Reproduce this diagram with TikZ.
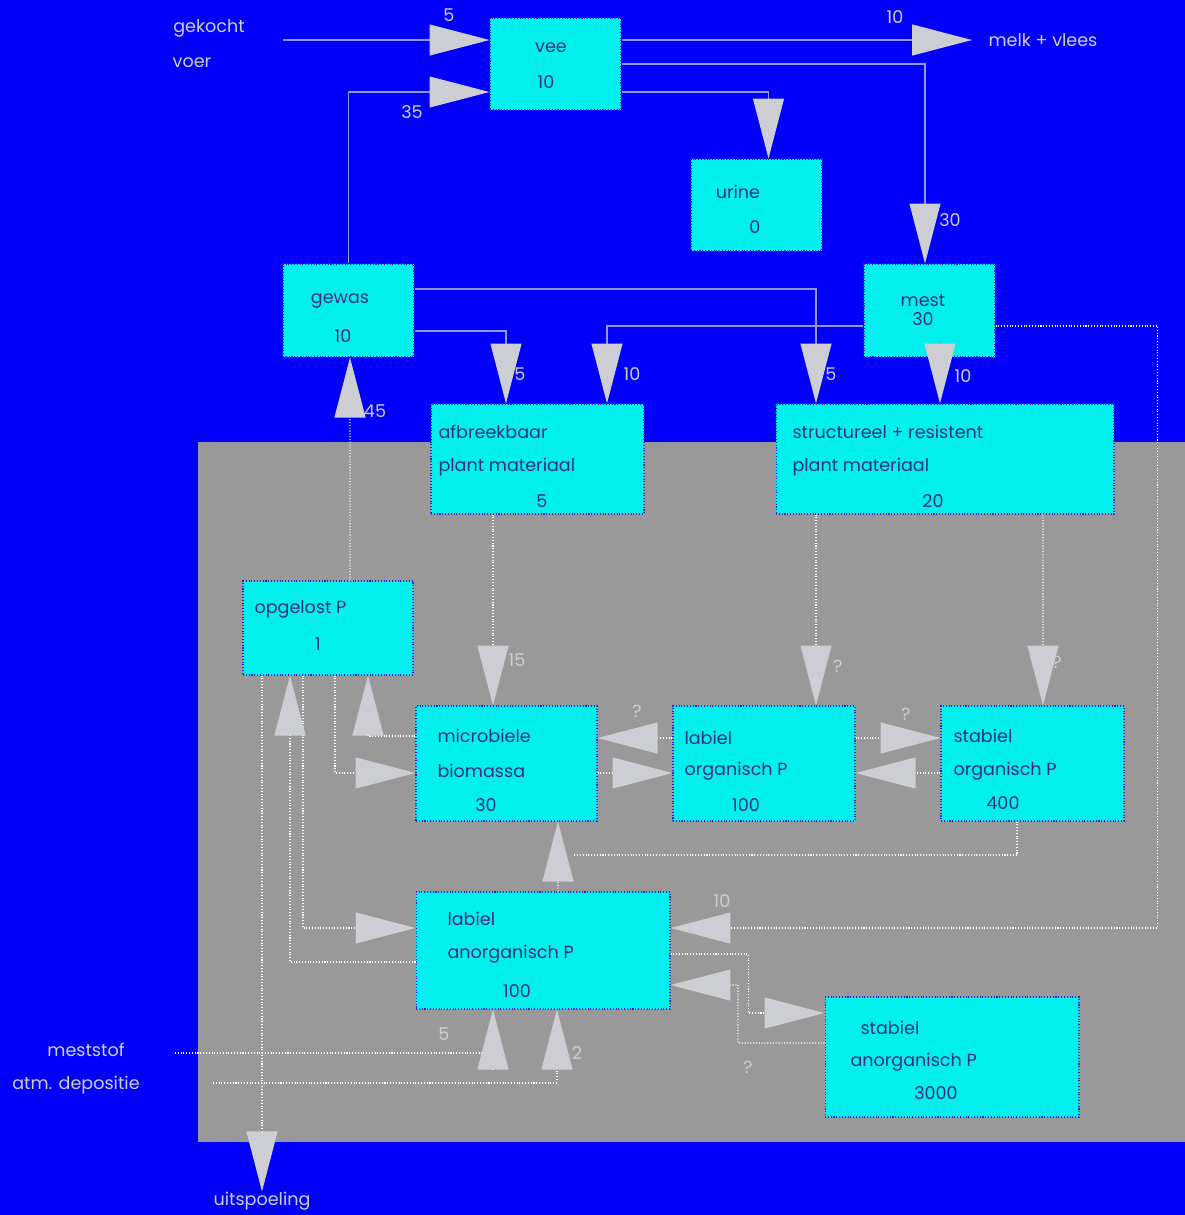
\documentclass[tikz,border=0pt]{standalone}
\usepackage{fontspec}
\setmainfont{Poppins}
\usetikzlibrary{arrows.meta}
\usetikzlibrary{calc}
\definecolor{sky}{RGB}{0,0,250}
\definecolor{soil}{RGB}{153,153,153}
\definecolor{poolcyan}{RGB}{0,240,240}
\definecolor{rim}{RGB}{40,40,200}
\definecolor{ink}{RGB}{50,50,120}
\definecolor{pale}{RGB}{205,205,212}
\definecolor{wire}{RGB}{150,150,220}
\tikzstyle{pool}=[rectangle,draw=rim,densely dotted,fill=poolcyan,inner sep=0mm]
\tikzstyle{txt}=[anchor=west,text=ink,inner sep=0mm,font=\fontsize{10}{12}\selectfont]
\tikzstyle{num}=[text=ink,inner sep=0mm,font=\fontsize{10}{12}\selectfont]
\tikzstyle{lbl}=[text=pale,inner sep=0mm,font=\fontsize{10}{12}\selectfont]
\tikzstyle{flow}=[draw=wire,-{Triangle[length=1.2cm,width=0.62cm,color=pale]}]
\tikzstyle{soilflow}=[flow,draw=white,densely dotted]
\tikzstyle{soilline}=[draw=white,densely dotted]
\tikzset{every picture/.style={
    line width=0.6pt
  }
}
\begin{document}
\begin{tikzpicture}[x=0.02cm,y=-0.02cm]
        \useasboundingbox (0,0) rectangle (1185,1215);
        \fill[sky] (0,0) rectangle (1185,1215);
        \fill[soil] (198,442) rectangle (1185,1142);
        \node[pool,minimum width=2.62cm,minimum height=1.84cm] at (555.5,64) (vee) {};
        \node[pool,minimum width=2.62cm,minimum height=1.84cm] at (756.5,205) (urine) {};
        \node[pool,minimum width=2.62cm,minimum height=1.86cm] at (348.5,310.5) (gewas) {};
        \node[pool,minimum width=2.62cm,minimum height=1.86cm] at (929.5,310.5) (mest) {};
        \node[pool,minimum width=4.26cm,minimum height=2.2cm] at (537.5,459) (afb) {};
        \node[pool,minimum width=6.76cm,minimum height=2.2cm] at (945,459) (strucres) {};
        \node[pool,minimum width=3.4cm,minimum height=1.88cm] at (328,628) (opgelost) {};
        \node[pool,minimum width=3.62cm,minimum height=2.3cm] at (506.5,763.5) (micro) {};
        \node[pool,minimum width=3.64cm,minimum height=2.3cm] at (764,763.5) (laborg) {};
        \node[pool,minimum width=3.66cm,minimum height=2.3cm] at (1032.5,763.5) (staborg) {};
        \node[pool,minimum width=5.08cm,minimum height=2.34cm] at (543,950.5) (labanorg) {};
        \node[pool,minimum width=5.08cm,minimum height=2.4cm] at (952,1057) (stabanorg) {};
        \node[num] at (551,48) (veeT) {vee};
        \node[num] at (546,82) (veeN) {10};
        \node[num] at (738,192) (urineT) {urine};
        \node[num] at (755,227) (urineN) {0};
        \node[num] at (340,301) (gewasT) {gewas};
        \node[num] at (343,336) (gewasN) {10};
        \node[num] at (923,301) (mestT) {mest};
        \node[num] at (923,319) (mestN) {30};
        \node[txt] at (438,432) (afbT) {afbreekbaar};
        \node[txt] at (438,467) (afbU) {plant materiaal};
        \node[num] at (542,501) (afbN) {5};
        \node[txt] at (792,432) (strucT) {structureel + resistent};
        \node[txt] at (792,467) (strucU) {plant materiaal};
        \node[num] at (933,501) (strucN) {20};
        \node[txt] at (254,609) (opgT) {opgelost P};
        \node[num] at (318,644) (opgN) {1};
        \node[txt] at (437,736) (microT) {microbiele};
        \node[txt] at (437,771) (microU) {biomassa};
        \node[num] at (486,805) (microN) {30};
        \node[txt] at (684,738) (laborgT) {labiel};
        \node[txt] at (684,771) (laborgU) {organisch P};
        \node[num] at (746,805) (laborgN) {100};
        \node[txt] at (953,736) (staborgT) {stabiel};
        \node[txt] at (953,771) (staborgU) {organisch P};
        \node[num] at (1003,803) (staborgN) {400};
        \node[txt] at (447,919) (labanT) {labiel};
        \node[txt] at (447,954) (labanU) {anorganisch P};
        \node[num] at (517,991) (labanN) {100};
        \node[txt] at (860,1028) (stabanT) {stabiel};
        \node[txt] at (850,1062) (stabanU) {anorganisch P};
        \node[num] at (936,1093) (stabanN) {3000};
        \node[lbl] at (209,28) (gekocht) {gekocht};
        \node[lbl] at (192,63) (voer) {voer};
        \node[lbl,anchor=west] at (988,40) (melk) {melk + vlees};
        \node[lbl] at (86,1050) (meststof) {meststof};
        \node[lbl] at (76,1085) (atm) {atm. depositie};
        \node[lbl] at (262,1201) (uitsp) {uitspoeling};
        \node[lbl] at (449,15) (n5a) {5};
        \node[lbl] at (895,17) (n10a) {10};
        \node[lbl] at (412,112) (n35) {35};
        \node[lbl] at (950,220) (n30) {30};
        \node[lbl] at (520,374) (n5b) {5};
        \node[lbl] at (632,374) (n10b) {10};
        \node[lbl] at (831,374) (n5c) {5};
        \node[lbl] at (963,376) (n10c) {10};
        \node[lbl] at (375,411) (n45) {45};
        \node[lbl] at (517,660) (n15) {15};
        \node[lbl] at (838,666) (q1) {?};
        \node[lbl] at (1057,662) (q2) {?};
        \node[lbl] at (637,711) (q3) {?};
        \node[lbl] at (906,714) (q4) {?};
        \node[lbl] at (722,901) (n10d) {10};
        \node[lbl] at (748,1067) (q5) {?};
        \node[lbl] at (444,1034) (n5d) {5};
        \node[lbl] at (577,1053) (n2) {2};
        \coordinate (buy) at (283,40);
        \coordinate (out) at (972,40);
        \coordinate (joinpt) at (573,855);
        \coordinate (msstart) at (175,1053);
        \coordinate (msin) at (493,1070);
        \coordinate (atmstart) at (213,1083);
        \coordinate (atmin) at (557,1080);
        \draw[flow] (buy) to (vee.west |- buy);
        \draw[flow] (vee.east |- out) to (out);
        \draw[flow] (gewas.north) |- ($(vee.west)+(0,28)$);
        \draw[flow] ($(vee.east)+(0,28)$) -| ($(urine.north)+(12,0)$);
        \draw[flow] (vee.east) -| ($(mest.north)+(-4.5,0)$);
        \draw[flow] ($(gewas.east)+(0,-21.5)$) -| ($(strucres.north)+(-129,0)$);
        \draw[flow] ($(gewas.east)+(0,20.5)$) -| ($(afb.north)+(-31.5,0)$);
        \draw[flow] ($(mest.west)+(0,15.5)$) -| ($(afb.north)+(69.5,0)$);
        \draw[flow] ($(mest.south)+(10.5,-17)$) to ($(strucres.north)+(-5,0)$);
        \draw[soilflow] ($(mest.east)+(0,15.5)$) -- ++(162,0) |- ($(labanorg.east)+(0,-22.5)$);
        \draw[soilflow] ($(opgelost.north)+(22,0)$) to ($(gewas.south)+(1.5,0)$);
        \draw[soilflow] ($(afb.south)+(-44.5,0)$) to ($(micro.north)+(-13.5,0)$);
        \draw[soilflow] ($(strucres.south)+(-129,0)$) to ($(laborg.north)+(52,0)$);
        \draw[soilflow] ($(strucres.south)+(98,0)$) to ($(staborg.north)+(10.5,0)$);
        \draw[soilflow] ($(laborg.west)+(0,-25.5)$) to ($(micro.east)+(0,-25.5)$);
        \draw[soilflow] ($(micro.east)+(0,9.5)$) to ($(laborg.west)+(0,9.5)$);
        \draw[soilflow] ($(laborg.east)+(0,-25.5)$) to ($(staborg.west)+(0,-25.5)$);
        \draw[soilflow] ($(staborg.west)+(0,9.5)$) to ($(laborg.east)+(0,9.5)$);
        \draw[soilline] ($(staborg.south)+(-15.5,0)$) |- (joinpt);
        \draw[soilflow] ($(labanorg.north)+(15,0)$) to ($(micro.south)+(51.5,0)$);
        \draw[soilflow] ($(opgelost.south)+(7,0)$) |- ($(micro.west)+(0,9.5)$);
        \draw[soilflow] ($(micro.west)+(0,-27.5)$) -| ($(opgelost.south)+(40,0)$);
        \draw[soilflow] ($(opgelost.south)+(-25,0)$) |- ($(labanorg.west)+(0,-22.5)$);
        \draw[soilflow] ($(labanorg.west)+(0,11.5)$) -| ($(opgelost.south)+(-38,0)$);
        \draw[soilflow] (uitsp.north |- opgelost.south) to (uitsp.north);
        \draw[soilline] (msstart) to (msstart -| msin);
        \draw[soilflow] (msin) to (msin |- labanorg.south);
        \draw[soilline] (atmstart) to (atmstart -| atmin);
        \draw[soilflow] (atmin) to (atmin |- labanorg.south);
        \draw[soilflow] ($(labanorg.east)+(0,3.5)$) -- ++(78,0) |- ($(stabanorg.west)+(0,-44)$);
        \draw[soilflow] ($(stabanorg.west)+(0,-14)$) -| (738,985) to ($(labanorg.east)+(0,34.5)$);
      \end{tikzpicture}
\end{document}
